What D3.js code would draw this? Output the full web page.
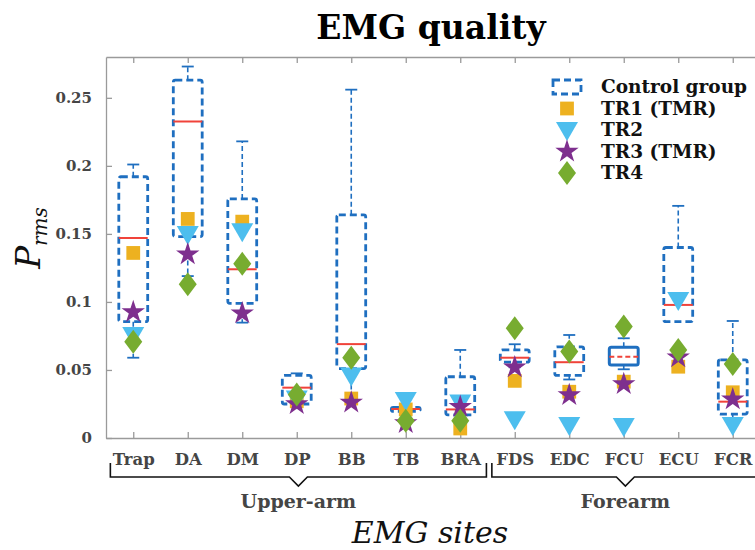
<!DOCTYPE html>
<html>
<head>
<meta charset="utf-8">
<script src="https://cdn.jsdelivr.net/npm/d3@7"></script>
<style>
    body { margin: 0; background: #fff; }
    svg { display: block; }
    .tick-label { font-family: "DejaVu Serif", serif; font-weight: bold; fill: #454545; }
</style>
</head>
<body>
<svg id="chart" width="755" height="550"></svg>
<script>
// EMG sites along the x axis
const sites = ["Trap", "DA", "DM", "DP", "BB", "TB", "BRA", "FDS", "EDC", "FCU", "ECU", "FCR"];

// Control group box plot stats per site
const whiskerHigh = [0.201, 0.273, 0.218, 0.0475, 0.256, 0.024, 0.0647, 0.0689, 0.0757, 0.0733, 0.1706, 0.086];
const q3 = [0.192, 0.263, 0.1757, 0.046, 0.164, 0.0225, 0.045, 0.0647, 0.067, 0.0667, 0.140, 0.0574];
const median = [0.147, 0.2326, 0.124, 0.037, 0.069, 0.0213, 0.021, 0.059, 0.0557, 0.0598, 0.0978, 0.0267];
const q1 = [0.0855, 0.148, 0.099, 0.025, 0.051, 0.0195, 0.017, 0.0557, 0.046, 0.0537, 0.0855, 0.0176];
const whiskerLow = [0.059, 0.119, 0.0848, 0.023, 0.027, 0.018, 0.015, 0.052, 0.043, 0.0505, 0.0855, 0.014];
const solidBoxes = ["FCU"];

// Individual subjects
const tr1 = [0.136, 0.161, 0.159, 0.027, 0.029, 0.021, 0.007, 0.042, 0.034, 0.0414, 0.0524, 0.0336];
const tr2 = [0.0757, 0.150, 0.152, 0.029, 0.046, 0.028, 0.026, 0.0137, 0.0096, 0.0088, 0.1015, 0.0096];
const tr3 = [0.0926, 0.135, 0.0917, 0.025, 0.026, 0.011, 0.023, 0.052, 0.0316, 0.0397, 0.0593, 0.0285];
const tr4 = [0.0708, 0.113, 0.128, 0.032, 0.059, 0.0127, 0.0127, 0.0807, 0.0635, 0.0819, 0.0647, 0.0544];

const yTicks = [0, 0.05, 0.1, 0.15, 0.2, 0.25];

const groups = [
    {name: "Upper-arm", first: "Trap", last: "BRA"},
    {name: "Forearm", first: "FDS", last: "FCR"}
];

const blue = "#1f6fc0";
const red = "#f0433a";

const svg = d3.select("#chart");

const x = d3.scaleLinear().domain([0.5, 12.5]).range([106, 760]);
const y = d3.scaleLinear().domain([0, 0.28]).range([438, 57]);
const step = x(2) - x(1);

// marker shapes
const squarePath = d3.symbol(d3.symbolSquare, 190)();
const starPath = d3.symbol(d3.symbolStar, 170)();
const trianglePath = "M-11,-8L11,-8L0,11Z";
const diamondPath = "M0,-12L9,0L0,12L-9,0Z";

const series = [
    {name: "TR1 (TMR)", values: tr1, path: squarePath, color: "#edb120"},
    {name: "TR2", values: tr2, path: trianglePath, color: "#4dbeee"},
    {name: "TR3 (TMR)", values: tr3, path: starPath, color: "#7e2f8e"},
    {name: "TR4", values: tr4, path: diamondPath, color: "#77ac30"}
];

// axes
const axisColor = "#9a9a9a";

const xAxis = svg.append("g")
    .attr("transform", `translate(0,${y(0)})`)
    .call(d3.axisBottom(x)
        .tickValues(d3.range(1, 13))
        .tickFormat(i => sites[i - 1])
        .tickSize(-6)
        .tickSizeOuter(0)
        .tickPadding(15));

svg.append("g")
    .attr("transform", `translate(0,${y.range()[1]})`)
    .call(d3.axisTop(x)
        .tickValues(d3.range(1, 13))
        .tickFormat("")
        .tickSize(-6)
        .tickSizeOuter(0));

const yAxis = svg.append("g")
    .attr("transform", `translate(${x.range()[0]},0)`)
    .call(d3.axisLeft(y)
        .tickValues(yTicks)
        .tickFormat(d => String(d))
        .tickSize(-6)
        .tickSizeOuter(0)
        .tickPadding(14));

svg.selectAll(".domain, .tick line").attr("stroke", axisColor).attr("stroke-width", 1.3);
xAxis.selectAll("text").attr("class", "tick-label").style("font-size", "16.5px");
yAxis.selectAll("text").attr("class", "tick-label").style("font-size", "15px");

// boxes
const boxW = 0.53 * step;
const capW = 12;
const stats = sites.map((s, i) => ({
    site: s, i: i + 1,
    hi: whiskerHigh[i], q3: q3[i], med: median[i], q1: q1[i], lo: whiskerLow[i],
    solid: solidBoxes.includes(s)
}));

const boxes = svg.append("g").selectAll("g")
    .data(stats)
    .join("g")
    .attr("transform", d => `translate(${x(d.i)},0)`);

boxes.append("line")
    .attr("y1", d => y(d.q3)).attr("y2", d => y(d.hi))
    .attr("stroke", blue).attr("stroke-width", 1.6)
    .attr("stroke-dasharray", "5,3");
boxes.append("line")
    .attr("y1", d => y(d.q1)).attr("y2", d => y(d.lo))
    .attr("stroke", blue).attr("stroke-width", 1.6)
    .attr("stroke-dasharray", "5,3");
boxes.append("line")
    .attr("x1", -capW / 2).attr("x2", capW / 2)
    .attr("y1", d => y(d.hi)).attr("y2", d => y(d.hi))
    .attr("stroke", blue).attr("stroke-width", 1.8);
boxes.filter(d => d.lo < d.q1).append("line")
    .attr("x1", -capW / 2).attr("x2", capW / 2)
    .attr("y1", d => y(d.lo)).attr("y2", d => y(d.lo))
    .attr("stroke", blue).attr("stroke-width", 1.8);
boxes.append("rect")
    .attr("x", -boxW / 2).attr("width", boxW)
    .attr("y", d => y(d.q3))
    .attr("height", d => y(d.q1) - y(d.q3))
    .attr("rx", 2)
    .attr("fill", "none")
    .attr("stroke", blue)
    .attr("stroke-width", d => d.solid ? 3 : 2.8)
    .attr("stroke-dasharray", d => d.solid ? null : "7,4");
boxes.append("line")
    .attr("x1", -boxW / 2).attr("x2", boxW / 2)
    .attr("y1", d => y(d.med)).attr("y2", d => y(d.med))
    .attr("stroke", red).attr("stroke-width", 2)
    .attr("stroke-dasharray", d => d.solid ? "5,3" : null);

// subject markers
series.forEach(s => {
    svg.append("g").selectAll("path")
        .data(s.values)
        .join("path")
        .attr("d", s.path)
        .attr("fill", s.color)
        .attr("transform", (v, i) => `translate(${x(i + 1)},${y(v)})`);
});

// legend
const legend = svg.append("g");
const legendX = 567, legendTextX = 601, legendY0 = 87, legendDy = 21.5;
const legendFont = "18.5px";
legend.append("rect")
    .attr("x", legendX - 14).attr("y", legendY0 - 7)
    .attr("width", 28).attr("height", 14)
    .attr("fill", "none").attr("stroke", blue)
    .attr("stroke-width", 2.8).attr("stroke-dasharray", "7,4");
legend.append("text")
    .attr("x", legendTextX).attr("y", legendY0 + 6)
    .style("font-family", "DejaVu Serif, serif").style("font-weight", "bold")
    .style("font-size", legendFont).attr("fill", "#111")
    .text("Control group");
series.forEach((s, k) => {
    const cy = legendY0 + legendDy * (k + 1);
    legend.append("path")
        .attr("d", s.path)
        .attr("fill", s.color)
        .attr("transform", `translate(${legendX},${cy})`);
    legend.append("text")
        .attr("x", legendTextX).attr("y", cy + 6)
        .style("font-family", "DejaVu Serif, serif").style("font-weight", "bold")
        .style("font-size", legendFont).attr("fill", "#111")
        .text(s.name);
});

// site group brackets
const bTop = 463, bLine = 477, notch = 9;
groups.forEach(g => {
    const x0 = x(sites.indexOf(g.first) + 1) - 0.42 * step;
    const x1 = x(sites.indexOf(g.last) + 1) + 0.48 * step;
    const cx = (x0 + x1) / 2;
    const p = d3.path();
    p.moveTo(x0, bTop);
    p.lineTo(x0, bLine);
    p.lineTo(cx - notch, bLine);
    p.lineTo(cx, bLine + notch);
    p.lineTo(cx + notch, bLine);
    p.lineTo(x1, bLine);
    p.lineTo(x1, bTop);
    svg.append("path")
        .attr("d", p.toString())
        .attr("fill", "none").attr("stroke", "#111").attr("stroke-width", 1.6);
    svg.append("text")
        .attr("x", cx).attr("y", 508)
        .attr("text-anchor", "middle")
        .attr("class", "tick-label")
        .style("font-size", "19px")
        .text(g.name);
});

// titles
svg.append("text")
    .attr("x", 431).attr("y", 39)
    .attr("text-anchor", "middle")
    .style("font-family", "DejaVu Serif, serif").style("font-weight", "bold")
    .style("font-size", "33px").attr("fill", "#000")
    .text("EMG quality");

svg.append("text")
    .attr("x", 430).attr("y", 543)
    .attr("text-anchor", "middle")
    .style("font-family", "DejaVu Serif, serif").style("font-style", "italic")
    .style("font-size", "30px").attr("fill", "#111")
    .text("EMG sites");

const yLabel = svg.append("text")
    .attr("transform", "translate(40,238) rotate(-90)")
    .attr("text-anchor", "middle")
    .style("font-family", "DejaVu Serif, serif").style("font-style", "italic")
    .attr("fill", "#111");
yLabel.append("tspan").style("font-size", "34px").text("P");
yLabel.append("tspan").style("font-size", "20px").attr("dy", 7).text("rms");
</script>
</body>
</html>
